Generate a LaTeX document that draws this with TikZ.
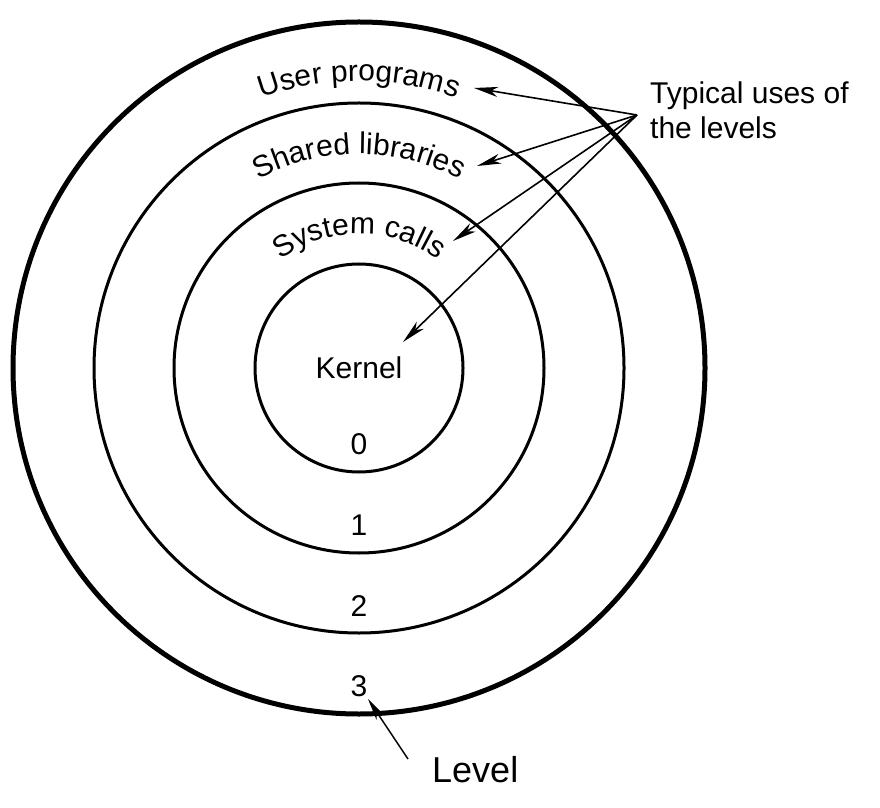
\documentclass[tikz,border=0pt]{standalone}
\usepackage{fontspec}
\setmainfont{Liberation Sans}
\usetikzlibrary{arrows.meta,decorations.text,calc}
\begin{document}
\begin{tikzpicture}[x=1pt,y=1pt,
  ring/.style={line width=3pt},
  outerring/.style={line width=5pt},
  lbl/.style={inner sep=0pt, font=\fontsize{30}{35}\selectfont},
  ptr/.style={line width=1.6pt, -{Stealth[length=24pt,width=10pt,inset=7pt]}},
  levptr/.style={line width=1.4pt, -{Stealth[length=22pt,width=9pt,inset=6pt]}}
]
\useasboundingbox (0,0) rectangle (880,807);
\coordinate (C) at (359,439);
% rings
\draw[ring] (C) circle[radius=104];
\draw[ring] (C) circle[radius=185];
\draw[ring] (C) circle[radius=265];
\draw[outerring] (C) circle[radius=346];
% curved labels
\path[decorate, decoration={text along path, text align=center,
  text={|\fontsize{30}{36}\selectfont|User programs}}]
  ($(C)+(165:287)$) arc[start angle=165, end angle=15, radius=287];
\path[decorate, decoration={text along path, text align=center,
  text={|\fontsize{30}{36}\selectfont|Shared libraries}}]
  ($(C)+(165:214)$) arc[start angle=165, end angle=15, radius=214];
\path[decorate, decoration={text along path, text align=center,
  text={|\fontsize{30}{36}\selectfont|System calls}}]
  ($(C)+(165:134)$) arc[start angle=165, end angle=15, radius=134];
% straight labels
\node[lbl] (kernel) at (C) {Kernel};
\node[lbl] (l0) at (359,363) {0};
\node[lbl] (l1) at (359,282) {1};
\node[lbl] (l2) at (359,201) {2};
\node[lbl] (l3) at (359,121) {3};
\node[lbl, anchor=north west, align=left] (uses) at (650,725) {Typical uses of\\the levels};
\node[inner sep=0pt, font=\fontsize{36}{40}\selectfont, anchor=base west] (level) at (432,25) {Level};
% pointers
\coordinate (src) at (637,692);
\coordinate (tUser) at (474,719);
\coordinate (tShared) at (477,641);
\coordinate (tSys) at (453,566);
\coordinate (tKern) at (403,465);
\draw[ptr] (src) -- (tUser);
\draw[ptr] (src) -- (tShared);
\draw[ptr] (src) -- (tSys);
\draw[ptr] (src) -- (tKern);
\coordinate (lsrc) at (408,48);
\coordinate (ltip) at (368,108);
\draw[levptr] (lsrc) -- (ltip);
\end{tikzpicture}
\end{document}
